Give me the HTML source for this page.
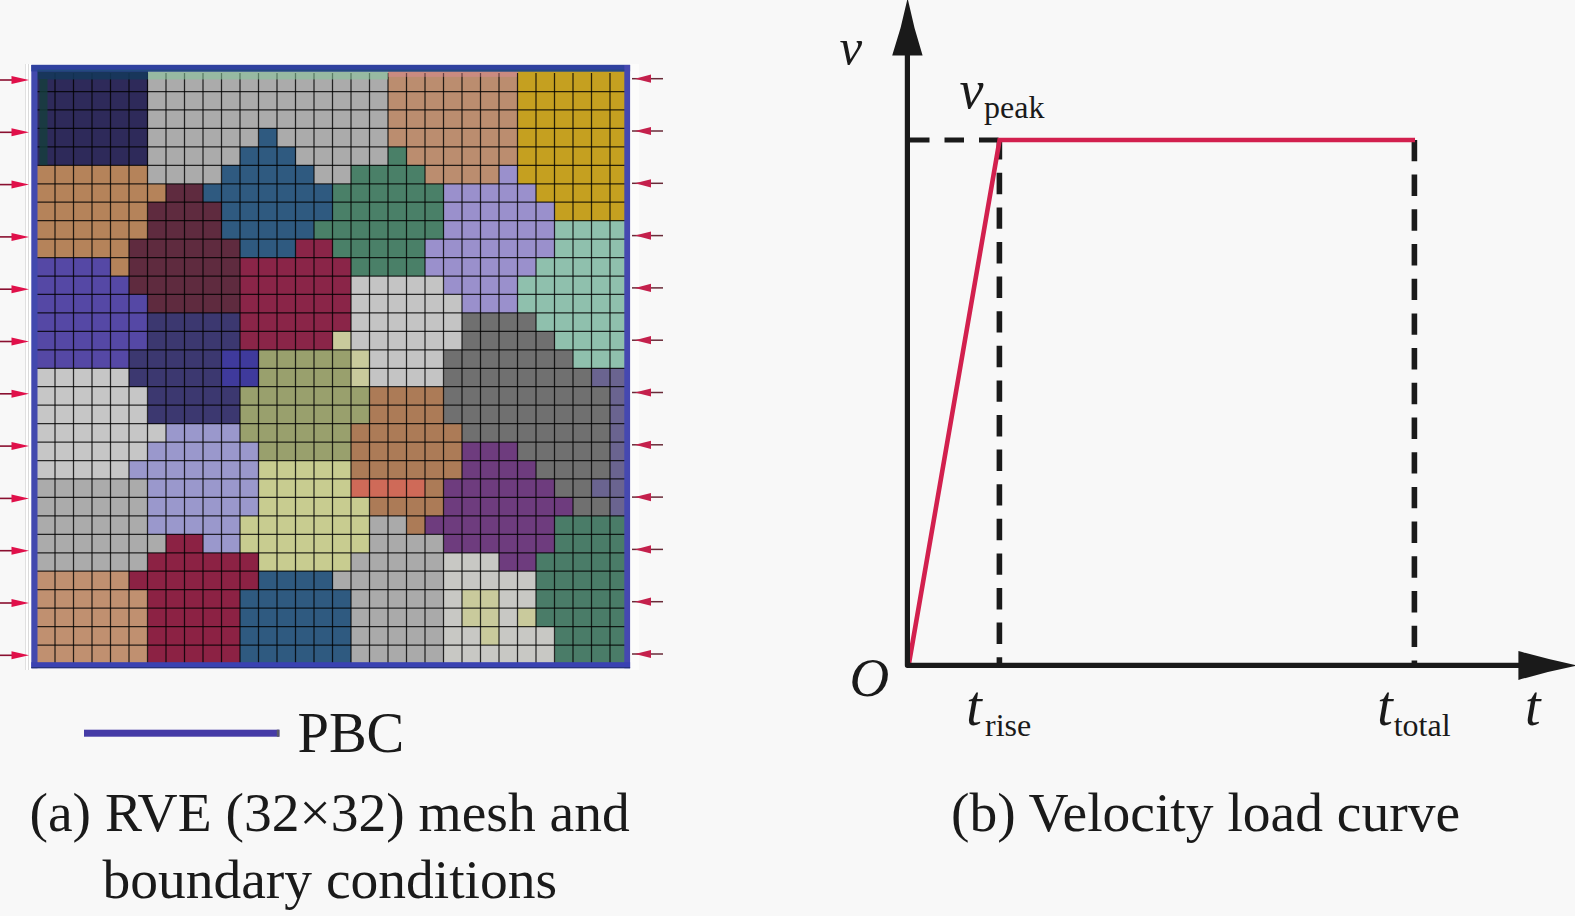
<!DOCTYPE html>
<html lang="en"><head><meta charset="utf-8"><title>RVE mesh and velocity load curve</title>
<style>
html,body{margin:0;padding:0;background:#f8f8f8;}
body{width:1575px;height:916px;overflow:hidden;position:relative;font-family:"Liberation Serif","Times New Roman",serif;}
svg{position:absolute;left:0;top:0;display:block;}
text{font-family:"Liberation Serif","Times New Roman",serif;fill:#1a1a1a;}
.it{font-style:italic;}
</style></head><body>
<svg width="1575" height="916" viewBox="0 0 1575 916">
<rect x="0" y="0" width="1575" height="916" fill="#f8f8f8"/>

<rect x="25" y="64" width="7" height="606" fill="#ffffff"/>
<rect x="25" y="64" width="0.7" height="606" fill="#d4d4d4"/>
<rect x="28" y="64" width="0.7" height="606" fill="#cccccc"/>
<rect x="630" y="64" width="9" height="606" fill="#fcfcfb"/>
<g shape-rendering="crispEdges">
<rect x="36.5" y="70.0" width="111.3" height="21.8" fill="#2e2a5a"/>
<rect x="147.5" y="70.0" width="240.8" height="21.8" fill="#ababab"/>
<rect x="388.0" y="70.0" width="129.8" height="21.8" fill="#bb8d6f"/>
<rect x="517.5" y="70.0" width="111.3" height="21.8" fill="#c5a020"/>
<rect x="36.5" y="91.5" width="111.3" height="18.75" fill="#2e2a5a"/>
<rect x="147.5" y="91.5" width="240.8" height="18.75" fill="#ababab"/>
<rect x="388.0" y="91.5" width="129.8" height="18.75" fill="#bb8d6f"/>
<rect x="517.5" y="91.5" width="111.3" height="18.75" fill="#c5a020"/>
<rect x="36.5" y="109.95" width="111.3" height="18.75" fill="#2e2a5a"/>
<rect x="147.5" y="109.95" width="240.8" height="18.75" fill="#ababab"/>
<rect x="388.0" y="109.95" width="129.8" height="18.75" fill="#bb8d6f"/>
<rect x="517.5" y="109.95" width="111.3" height="18.75" fill="#c5a020"/>
<rect x="36.5" y="128.4" width="111.3" height="18.75" fill="#2e2a5a"/>
<rect x="147.5" y="128.4" width="111.3" height="18.75" fill="#ababab"/>
<rect x="258.5" y="128.4" width="18.8" height="18.75" fill="#2f5a80"/>
<rect x="277.0" y="128.4" width="111.3" height="18.75" fill="#ababab"/>
<rect x="388.0" y="128.4" width="129.8" height="18.75" fill="#bb8d6f"/>
<rect x="517.5" y="128.4" width="111.3" height="18.75" fill="#c5a020"/>
<rect x="36.5" y="146.85" width="111.3" height="18.75" fill="#2e2a5a"/>
<rect x="147.5" y="146.85" width="92.8" height="18.75" fill="#ababab"/>
<rect x="240.0" y="146.85" width="55.8" height="18.75" fill="#2f5a80"/>
<rect x="295.5" y="146.85" width="92.8" height="18.75" fill="#ababab"/>
<rect x="388.0" y="146.85" width="18.8" height="18.75" fill="#4a8068"/>
<rect x="406.5" y="146.85" width="111.3" height="18.75" fill="#bb8d6f"/>
<rect x="517.5" y="146.85" width="111.3" height="18.75" fill="#c5a020"/>
<rect x="36.5" y="165.3" width="111.3" height="18.75" fill="#b5835a"/>
<rect x="147.5" y="165.3" width="74.3" height="18.75" fill="#ababab"/>
<rect x="221.5" y="165.3" width="92.8" height="18.75" fill="#2f5a80"/>
<rect x="314.0" y="165.3" width="37.3" height="18.75" fill="#ababab"/>
<rect x="351.0" y="165.3" width="74.3" height="18.75" fill="#4a8068"/>
<rect x="425.0" y="165.3" width="74.3" height="18.75" fill="#bb8d6f"/>
<rect x="499.0" y="165.3" width="18.8" height="18.75" fill="#9a90cc"/>
<rect x="517.5" y="165.3" width="111.3" height="18.75" fill="#c5a020"/>
<rect x="36.5" y="183.75" width="129.8" height="18.75" fill="#b5835a"/>
<rect x="166.0" y="183.75" width="37.3" height="18.75" fill="#5f2b3f"/>
<rect x="203.0" y="183.75" width="129.8" height="18.75" fill="#2f5a80"/>
<rect x="332.5" y="183.75" width="111.3" height="18.75" fill="#4a8068"/>
<rect x="443.5" y="183.75" width="92.8" height="18.75" fill="#9a90cc"/>
<rect x="536.0" y="183.75" width="92.8" height="18.75" fill="#c5a020"/>
<rect x="36.5" y="202.2" width="111.3" height="18.75" fill="#b5835a"/>
<rect x="147.5" y="202.2" width="74.3" height="18.75" fill="#5f2b3f"/>
<rect x="221.5" y="202.2" width="111.3" height="18.75" fill="#2f5a80"/>
<rect x="332.5" y="202.2" width="111.3" height="18.75" fill="#4a8068"/>
<rect x="443.5" y="202.2" width="111.3" height="18.75" fill="#9a90cc"/>
<rect x="554.5" y="202.2" width="74.3" height="18.75" fill="#c5a020"/>
<rect x="36.5" y="220.65" width="111.3" height="18.75" fill="#b5835a"/>
<rect x="147.5" y="220.65" width="74.3" height="18.75" fill="#5f2b3f"/>
<rect x="221.5" y="220.65" width="92.8" height="18.75" fill="#2f5a80"/>
<rect x="314.0" y="220.65" width="129.8" height="18.75" fill="#4a8068"/>
<rect x="443.5" y="220.65" width="111.3" height="18.75" fill="#9a90cc"/>
<rect x="554.5" y="220.65" width="74.3" height="18.75" fill="#8fc0ad"/>
<rect x="36.5" y="239.1" width="92.8" height="18.75" fill="#b5835a"/>
<rect x="129.0" y="239.1" width="111.3" height="18.75" fill="#5f2b3f"/>
<rect x="240.0" y="239.1" width="55.8" height="18.75" fill="#2f5a80"/>
<rect x="295.5" y="239.1" width="37.3" height="18.75" fill="#8a2548"/>
<rect x="332.5" y="239.1" width="92.8" height="18.75" fill="#4a8068"/>
<rect x="425.0" y="239.1" width="129.8" height="18.75" fill="#9a90cc"/>
<rect x="554.5" y="239.1" width="74.3" height="18.75" fill="#8fc0ad"/>
<rect x="36.5" y="257.55" width="74.3" height="18.75" fill="#5548a5"/>
<rect x="110.5" y="257.55" width="18.8" height="18.75" fill="#b5835a"/>
<rect x="129.0" y="257.55" width="111.3" height="18.75" fill="#5f2b3f"/>
<rect x="240.0" y="257.55" width="111.3" height="18.75" fill="#8a2548"/>
<rect x="351.0" y="257.55" width="74.3" height="18.75" fill="#4a8068"/>
<rect x="425.0" y="257.55" width="111.3" height="18.75" fill="#9a90cc"/>
<rect x="536.0" y="257.55" width="92.8" height="18.75" fill="#8fc0ad"/>
<rect x="36.5" y="276.0" width="92.8" height="18.75" fill="#5548a5"/>
<rect x="129.0" y="276.0" width="111.3" height="18.75" fill="#5f2b3f"/>
<rect x="240.0" y="276.0" width="111.3" height="18.75" fill="#8a2548"/>
<rect x="351.0" y="276.0" width="92.8" height="18.75" fill="#c4c4c4"/>
<rect x="443.5" y="276.0" width="74.3" height="18.75" fill="#9a90cc"/>
<rect x="517.5" y="276.0" width="111.3" height="18.75" fill="#8fc0ad"/>
<rect x="36.5" y="294.45" width="111.3" height="18.75" fill="#5548a5"/>
<rect x="147.5" y="294.45" width="92.8" height="18.75" fill="#5f2b3f"/>
<rect x="240.0" y="294.45" width="111.3" height="18.75" fill="#8a2548"/>
<rect x="351.0" y="294.45" width="111.3" height="18.75" fill="#c4c4c4"/>
<rect x="462.0" y="294.45" width="55.8" height="18.75" fill="#9a90cc"/>
<rect x="517.5" y="294.45" width="111.3" height="18.75" fill="#8fc0ad"/>
<rect x="36.5" y="312.9" width="111.3" height="18.75" fill="#5548a5"/>
<rect x="147.5" y="312.9" width="92.8" height="18.75" fill="#3c3870"/>
<rect x="240.0" y="312.9" width="111.3" height="18.75" fill="#8a2548"/>
<rect x="351.0" y="312.9" width="111.3" height="18.75" fill="#c4c4c4"/>
<rect x="462.0" y="312.9" width="74.3" height="18.75" fill="#707070"/>
<rect x="536.0" y="312.9" width="92.8" height="18.75" fill="#8fc0ad"/>
<rect x="36.5" y="331.35" width="111.3" height="18.75" fill="#5548a5"/>
<rect x="147.5" y="331.35" width="92.8" height="18.75" fill="#3c3870"/>
<rect x="240.0" y="331.35" width="92.8" height="18.75" fill="#8a2548"/>
<rect x="332.5" y="331.35" width="18.8" height="18.75" fill="#c9ca9c"/>
<rect x="351.0" y="331.35" width="111.3" height="18.75" fill="#c4c4c4"/>
<rect x="462.0" y="331.35" width="92.8" height="18.75" fill="#707070"/>
<rect x="554.5" y="331.35" width="74.3" height="18.75" fill="#8fc0ad"/>
<rect x="36.5" y="349.8" width="92.8" height="18.75" fill="#5548a5"/>
<rect x="129.0" y="349.8" width="92.8" height="18.75" fill="#3c3870"/>
<rect x="221.5" y="349.8" width="37.3" height="18.75" fill="#3f3a9c"/>
<rect x="258.5" y="349.8" width="92.8" height="18.75" fill="#99a06d"/>
<rect x="351.0" y="349.8" width="18.8" height="18.75" fill="#c9ca9c"/>
<rect x="369.5" y="349.8" width="74.3" height="18.75" fill="#c4c4c4"/>
<rect x="443.5" y="349.8" width="129.8" height="18.75" fill="#707070"/>
<rect x="573.0" y="349.8" width="55.8" height="18.75" fill="#8fc0ad"/>
<rect x="36.5" y="368.25" width="92.8" height="18.75" fill="#c6c6c6"/>
<rect x="129.0" y="368.25" width="92.8" height="18.75" fill="#3c3870"/>
<rect x="221.5" y="368.25" width="37.3" height="18.75" fill="#3f3a9c"/>
<rect x="258.5" y="368.25" width="92.8" height="18.75" fill="#99a06d"/>
<rect x="351.0" y="368.25" width="18.8" height="18.75" fill="#c9ca9c"/>
<rect x="369.5" y="368.25" width="74.3" height="18.75" fill="#c4c4c4"/>
<rect x="443.5" y="368.25" width="148.3" height="18.75" fill="#707070"/>
<rect x="591.5" y="368.25" width="37.3" height="18.75" fill="#6a6490"/>
<rect x="36.5" y="386.7" width="111.3" height="18.75" fill="#c6c6c6"/>
<rect x="147.5" y="386.7" width="92.8" height="18.75" fill="#3c3870"/>
<rect x="240.0" y="386.7" width="129.8" height="18.75" fill="#99a06d"/>
<rect x="369.5" y="386.7" width="74.3" height="18.75" fill="#ac7b57"/>
<rect x="443.5" y="386.7" width="166.8" height="18.75" fill="#707070"/>
<rect x="610.0" y="386.7" width="18.8" height="18.75" fill="#6a6490"/>
<rect x="36.5" y="405.15" width="111.3" height="18.75" fill="#c6c6c6"/>
<rect x="147.5" y="405.15" width="92.8" height="18.75" fill="#3c3870"/>
<rect x="240.0" y="405.15" width="129.8" height="18.75" fill="#99a06d"/>
<rect x="369.5" y="405.15" width="74.3" height="18.75" fill="#ac7b57"/>
<rect x="443.5" y="405.15" width="166.8" height="18.75" fill="#707070"/>
<rect x="610.0" y="405.15" width="18.8" height="18.75" fill="#6a6490"/>
<rect x="36.5" y="423.6" width="129.8" height="18.75" fill="#c6c6c6"/>
<rect x="166.0" y="423.6" width="74.3" height="18.75" fill="#9a98cc"/>
<rect x="240.0" y="423.6" width="111.3" height="18.75" fill="#99a06d"/>
<rect x="351.0" y="423.6" width="111.3" height="18.75" fill="#ac7b57"/>
<rect x="462.0" y="423.6" width="148.3" height="18.75" fill="#707070"/>
<rect x="610.0" y="423.6" width="18.8" height="18.75" fill="#6a6490"/>
<rect x="36.5" y="442.05" width="111.3" height="18.75" fill="#c6c6c6"/>
<rect x="147.5" y="442.05" width="111.3" height="18.75" fill="#9a98cc"/>
<rect x="258.5" y="442.05" width="92.8" height="18.75" fill="#99a06d"/>
<rect x="351.0" y="442.05" width="111.3" height="18.75" fill="#ac7b57"/>
<rect x="462.0" y="442.05" width="55.8" height="18.75" fill="#6e3c7e"/>
<rect x="517.5" y="442.05" width="92.8" height="18.75" fill="#707070"/>
<rect x="610.0" y="442.05" width="18.8" height="18.75" fill="#6a6490"/>
<rect x="36.5" y="460.5" width="92.8" height="18.75" fill="#c6c6c6"/>
<rect x="129.0" y="460.5" width="129.8" height="18.75" fill="#9a98cc"/>
<rect x="258.5" y="460.5" width="92.8" height="18.75" fill="#c8cc90"/>
<rect x="351.0" y="460.5" width="111.3" height="18.75" fill="#ac7b57"/>
<rect x="462.0" y="460.5" width="74.3" height="18.75" fill="#6e3c7e"/>
<rect x="536.0" y="460.5" width="74.3" height="18.75" fill="#707070"/>
<rect x="610.0" y="460.5" width="18.8" height="18.75" fill="#6a6490"/>
<rect x="36.5" y="478.95" width="111.3" height="18.75" fill="#ababab"/>
<rect x="147.5" y="478.95" width="111.3" height="18.75" fill="#9a98cc"/>
<rect x="258.5" y="478.95" width="92.8" height="18.75" fill="#c8cc90"/>
<rect x="351.0" y="478.95" width="74.3" height="18.75" fill="#cf6a58"/>
<rect x="425.0" y="478.95" width="18.8" height="18.75" fill="#ac7b57"/>
<rect x="443.5" y="478.95" width="111.3" height="18.75" fill="#6e3c7e"/>
<rect x="554.5" y="478.95" width="37.3" height="18.75" fill="#707070"/>
<rect x="591.5" y="478.95" width="37.3" height="18.75" fill="#6a6490"/>
<rect x="36.5" y="497.4" width="111.3" height="18.75" fill="#ababab"/>
<rect x="147.5" y="497.4" width="111.3" height="18.75" fill="#9a98cc"/>
<rect x="258.5" y="497.4" width="111.3" height="18.75" fill="#c8cc90"/>
<rect x="369.5" y="497.4" width="74.3" height="18.75" fill="#ac7b57"/>
<rect x="443.5" y="497.4" width="129.8" height="18.75" fill="#6e3c7e"/>
<rect x="573.0" y="497.4" width="37.3" height="18.75" fill="#707070"/>
<rect x="610.0" y="497.4" width="18.8" height="18.75" fill="#6a6490"/>
<rect x="36.5" y="515.85" width="111.3" height="18.75" fill="#ababab"/>
<rect x="147.5" y="515.85" width="92.8" height="18.75" fill="#9a98cc"/>
<rect x="240.0" y="515.85" width="129.8" height="18.75" fill="#c8cc90"/>
<rect x="369.5" y="515.85" width="37.3" height="18.75" fill="#aaaaaa"/>
<rect x="406.5" y="515.85" width="18.8" height="18.75" fill="#ac7b57"/>
<rect x="425.0" y="515.85" width="129.8" height="18.75" fill="#6e3c7e"/>
<rect x="554.5" y="515.85" width="74.3" height="18.75" fill="#4a7c68"/>
<rect x="36.5" y="534.3" width="129.8" height="18.75" fill="#ababab"/>
<rect x="166.0" y="534.3" width="37.3" height="18.75" fill="#8c2244"/>
<rect x="203.0" y="534.3" width="37.3" height="18.75" fill="#9a98cc"/>
<rect x="240.0" y="534.3" width="129.8" height="18.75" fill="#c8cc90"/>
<rect x="369.5" y="534.3" width="74.3" height="18.75" fill="#aaaaaa"/>
<rect x="443.5" y="534.3" width="111.3" height="18.75" fill="#6e3c7e"/>
<rect x="554.5" y="534.3" width="74.3" height="18.75" fill="#4a7c68"/>
<rect x="36.5" y="552.75" width="111.3" height="18.75" fill="#ababab"/>
<rect x="147.5" y="552.75" width="111.3" height="18.75" fill="#8c2244"/>
<rect x="258.5" y="552.75" width="92.8" height="18.75" fill="#c8cc90"/>
<rect x="351.0" y="552.75" width="92.8" height="18.75" fill="#aaaaaa"/>
<rect x="443.5" y="552.75" width="55.8" height="18.75" fill="#c8c8c4"/>
<rect x="499.0" y="552.75" width="37.3" height="18.75" fill="#6e3c7e"/>
<rect x="536.0" y="552.75" width="92.8" height="18.75" fill="#4a7c68"/>
<rect x="36.5" y="571.2" width="92.8" height="18.75" fill="#c09070"/>
<rect x="129.0" y="571.2" width="129.8" height="18.75" fill="#8c2244"/>
<rect x="258.5" y="571.2" width="74.3" height="18.75" fill="#2f5a80"/>
<rect x="332.5" y="571.2" width="111.3" height="18.75" fill="#aaaaaa"/>
<rect x="443.5" y="571.2" width="92.8" height="18.75" fill="#c8c8c4"/>
<rect x="536.0" y="571.2" width="92.8" height="18.75" fill="#4a7c68"/>
<rect x="36.5" y="589.65" width="111.3" height="18.75" fill="#c09070"/>
<rect x="147.5" y="589.65" width="92.8" height="18.75" fill="#8c2244"/>
<rect x="240.0" y="589.65" width="111.3" height="18.75" fill="#2f5a80"/>
<rect x="351.0" y="589.65" width="92.8" height="18.75" fill="#aaaaaa"/>
<rect x="443.5" y="589.65" width="18.8" height="18.75" fill="#c8c8c4"/>
<rect x="462.0" y="589.65" width="37.3" height="18.75" fill="#c9ca9c"/>
<rect x="499.0" y="589.65" width="37.3" height="18.75" fill="#c8c8c4"/>
<rect x="536.0" y="589.65" width="92.8" height="18.75" fill="#4a7c68"/>
<rect x="36.5" y="608.1" width="111.3" height="18.75" fill="#c09070"/>
<rect x="147.5" y="608.1" width="92.8" height="18.75" fill="#8c2244"/>
<rect x="240.0" y="608.1" width="111.3" height="18.75" fill="#2f5a80"/>
<rect x="351.0" y="608.1" width="92.8" height="18.75" fill="#aaaaaa"/>
<rect x="443.5" y="608.1" width="18.8" height="18.75" fill="#c8c8c4"/>
<rect x="462.0" y="608.1" width="37.3" height="18.75" fill="#c9ca9c"/>
<rect x="499.0" y="608.1" width="18.8" height="18.75" fill="#c8c8c4"/>
<rect x="517.5" y="608.1" width="18.8" height="18.75" fill="#c9ca9c"/>
<rect x="536.0" y="608.1" width="92.8" height="18.75" fill="#4a7c68"/>
<rect x="36.5" y="626.55" width="111.3" height="18.75" fill="#c09070"/>
<rect x="147.5" y="626.55" width="92.8" height="18.75" fill="#8c2244"/>
<rect x="240.0" y="626.55" width="111.3" height="18.75" fill="#2f5a80"/>
<rect x="351.0" y="626.55" width="92.8" height="18.75" fill="#aaaaaa"/>
<rect x="443.5" y="626.55" width="37.3" height="18.75" fill="#c8c8c4"/>
<rect x="480.5" y="626.55" width="18.8" height="18.75" fill="#c9ca9c"/>
<rect x="499.0" y="626.55" width="55.8" height="18.75" fill="#c8c8c4"/>
<rect x="554.5" y="626.55" width="74.3" height="18.75" fill="#4a7c68"/>
<rect x="36.5" y="645.0" width="111.3" height="18.75" fill="#c09070"/>
<rect x="147.5" y="645.0" width="92.8" height="18.75" fill="#8c2244"/>
<rect x="240.0" y="645.0" width="111.3" height="18.75" fill="#2f5a80"/>
<rect x="351.0" y="645.0" width="92.8" height="18.75" fill="#aaaaaa"/>
<rect x="443.5" y="645.0" width="111.3" height="18.75" fill="#c8c8c4"/>
<rect x="554.5" y="645.0" width="74.3" height="18.75" fill="#4a7c68"/>
</g>
<g stroke="#000" stroke-width="1.25" stroke-opacity="0.8">
<line x1="55.0" y1="73.05" x2="55.0" y2="663.45"/>
<line x1="73.5" y1="73.05" x2="73.5" y2="663.45"/>
<line x1="92.0" y1="73.05" x2="92.0" y2="663.45"/>
<line x1="110.5" y1="73.05" x2="110.5" y2="663.45"/>
<line x1="129.0" y1="73.05" x2="129.0" y2="663.45"/>
<line x1="147.5" y1="73.05" x2="147.5" y2="663.45"/>
<line x1="166.0" y1="73.05" x2="166.0" y2="663.45"/>
<line x1="184.5" y1="73.05" x2="184.5" y2="663.45"/>
<line x1="203.0" y1="73.05" x2="203.0" y2="663.45"/>
<line x1="221.5" y1="73.05" x2="221.5" y2="663.45"/>
<line x1="240.0" y1="73.05" x2="240.0" y2="663.45"/>
<line x1="258.5" y1="73.05" x2="258.5" y2="663.45"/>
<line x1="277.0" y1="73.05" x2="277.0" y2="663.45"/>
<line x1="295.5" y1="73.05" x2="295.5" y2="663.45"/>
<line x1="314.0" y1="73.05" x2="314.0" y2="663.45"/>
<line x1="332.5" y1="73.05" x2="332.5" y2="663.45"/>
<line x1="351.0" y1="73.05" x2="351.0" y2="663.45"/>
<line x1="369.5" y1="73.05" x2="369.5" y2="663.45"/>
<line x1="388.0" y1="73.05" x2="388.0" y2="663.45"/>
<line x1="406.5" y1="73.05" x2="406.5" y2="663.45"/>
<line x1="425.0" y1="73.05" x2="425.0" y2="663.45"/>
<line x1="443.5" y1="73.05" x2="443.5" y2="663.45"/>
<line x1="462.0" y1="73.05" x2="462.0" y2="663.45"/>
<line x1="480.5" y1="73.05" x2="480.5" y2="663.45"/>
<line x1="499.0" y1="73.05" x2="499.0" y2="663.45"/>
<line x1="517.5" y1="73.05" x2="517.5" y2="663.45"/>
<line x1="536.0" y1="73.05" x2="536.0" y2="663.45"/>
<line x1="554.5" y1="73.05" x2="554.5" y2="663.45"/>
<line x1="573.0" y1="73.05" x2="573.0" y2="663.45"/>
<line x1="591.5" y1="73.05" x2="591.5" y2="663.45"/>
<line x1="610.0" y1="73.05" x2="610.0" y2="663.45"/>
<line x1="36.5" y1="91.5" x2="628.5" y2="91.5"/>
<line x1="36.5" y1="109.95" x2="628.5" y2="109.95"/>
<line x1="36.5" y1="128.4" x2="628.5" y2="128.4"/>
<line x1="36.5" y1="146.85" x2="628.5" y2="146.85"/>
<line x1="36.5" y1="165.3" x2="628.5" y2="165.3"/>
<line x1="36.5" y1="183.75" x2="628.5" y2="183.75"/>
<line x1="36.5" y1="202.2" x2="628.5" y2="202.2"/>
<line x1="36.5" y1="220.65" x2="628.5" y2="220.65"/>
<line x1="36.5" y1="239.1" x2="628.5" y2="239.1"/>
<line x1="36.5" y1="257.55" x2="628.5" y2="257.55"/>
<line x1="36.5" y1="276.0" x2="628.5" y2="276.0"/>
<line x1="36.5" y1="294.45" x2="628.5" y2="294.45"/>
<line x1="36.5" y1="312.9" x2="628.5" y2="312.9"/>
<line x1="36.5" y1="331.35" x2="628.5" y2="331.35"/>
<line x1="36.5" y1="349.8" x2="628.5" y2="349.8"/>
<line x1="36.5" y1="368.25" x2="628.5" y2="368.25"/>
<line x1="36.5" y1="386.7" x2="628.5" y2="386.7"/>
<line x1="36.5" y1="405.15" x2="628.5" y2="405.15"/>
<line x1="36.5" y1="423.6" x2="628.5" y2="423.6"/>
<line x1="36.5" y1="442.05" x2="628.5" y2="442.05"/>
<line x1="36.5" y1="460.5" x2="628.5" y2="460.5"/>
<line x1="36.5" y1="478.95" x2="628.5" y2="478.95"/>
<line x1="36.5" y1="497.4" x2="628.5" y2="497.4"/>
<line x1="36.5" y1="515.85" x2="628.5" y2="515.85"/>
<line x1="36.5" y1="534.3" x2="628.5" y2="534.3"/>
<line x1="36.5" y1="552.75" x2="628.5" y2="552.75"/>
<line x1="36.5" y1="571.2" x2="628.5" y2="571.2"/>
<line x1="36.5" y1="589.65" x2="628.5" y2="589.65"/>
<line x1="36.5" y1="608.1" x2="628.5" y2="608.1"/>
<line x1="36.5" y1="626.55" x2="628.5" y2="626.55"/>
<line x1="36.5" y1="645.0" x2="628.5" y2="645.0"/>
</g>
<rect x="37" y="71.4" width="111" height="8" fill="#14385c" opacity="0.85"/>
<rect x="39.5" y="79" width="8" height="86" fill="#153f3c" opacity="0.8"/>
<rect x="148" y="71.4" width="240" height="8" fill="#86c79a" opacity="0.55"/>
<rect x="388" y="71.4" width="129" height="5.5" fill="#e48aa0" opacity="0.35"/>
<rect x="31.3" y="65" width="6.2" height="603.2" fill="#4249ae"/>
<rect x="31.3" y="64.8" width="598.8" height="6.6" fill="#2f419f"/>
<rect x="624.3" y="65" width="5.8" height="603.2" fill="#4548b0"/>
<rect x="31.3" y="662.2" width="598.8" height="6" fill="#3a42b2"/>
<rect x="37.5" y="69.6" width="586.8" height="1.9" fill="#234a80"/>
<rect x="31.3" y="667.2" width="598.8" height="1" fill="#22306e"/>
<g fill="#e0104a" stroke="none">
<rect x="0" y="79.2" width="14" height="1.6" fill="#8a1030"/>
<path d="M11.5 76.0 L29 80.0 L11.5 84.0 Z"/>
<rect x="0" y="131.5" width="14" height="1.6" fill="#8a1030"/>
<path d="M11.5 128.3 L29 132.3 L11.5 136.3 Z"/>
<rect x="0" y="183.8" width="14" height="1.6" fill="#8a1030"/>
<path d="M11.5 180.6 L29 184.6 L11.5 188.6 Z"/>
<rect x="0" y="236.1" width="14" height="1.6" fill="#8a1030"/>
<path d="M11.5 232.9 L29 236.9 L11.5 240.9 Z"/>
<rect x="0" y="288.4" width="14" height="1.6" fill="#8a1030"/>
<path d="M11.5 285.2 L29 289.2 L11.5 293.2 Z"/>
<rect x="0" y="340.7" width="14" height="1.6" fill="#8a1030"/>
<path d="M11.5 337.5 L29 341.5 L11.5 345.5 Z"/>
<rect x="0" y="393.0" width="14" height="1.6" fill="#8a1030"/>
<path d="M11.5 389.8 L29 393.8 L11.5 397.8 Z"/>
<rect x="0" y="445.3" width="14" height="1.6" fill="#8a1030"/>
<path d="M11.5 442.1 L29 446.1 L11.5 450.1 Z"/>
<rect x="0" y="497.6" width="14" height="1.6" fill="#8a1030"/>
<path d="M11.5 494.4 L29 498.4 L11.5 502.4 Z"/>
<rect x="0" y="549.9" width="14" height="1.6" fill="#8a1030"/>
<path d="M11.5 546.7 L29 550.7 L11.5 554.7 Z"/>
<rect x="0" y="602.2" width="14" height="1.6" fill="#8a1030"/>
<path d="M11.5 599.0 L29 603.0 L11.5 607.0 Z"/>
<rect x="0" y="654.5" width="14" height="1.6" fill="#8a1030"/>
<path d="M11.5 651.3 L29 655.3 L11.5 659.3 Z"/>
</g>
<g fill="#c4204c" stroke="none">
<rect x="632" y="77.95" width="31" height="1.5" fill="#6a2a38"/>
<path d="M651 74.6 L635 78.7 L651 82.8 Z"/>
<rect x="632" y="130.25" width="31" height="1.5" fill="#6a2a38"/>
<path d="M651 126.9 L635 131.0 L651 135.1 Z"/>
<rect x="632" y="182.55" width="31" height="1.5" fill="#6a2a38"/>
<path d="M651 179.2 L635 183.3 L651 187.4 Z"/>
<rect x="632" y="234.85" width="31" height="1.5" fill="#6a2a38"/>
<path d="M651 231.5 L635 235.6 L651 239.7 Z"/>
<rect x="632" y="287.15" width="31" height="1.5" fill="#6a2a38"/>
<path d="M651 283.8 L635 287.9 L651 292.0 Z"/>
<rect x="632" y="339.45" width="31" height="1.5" fill="#6a2a38"/>
<path d="M651 336.1 L635 340.2 L651 344.3 Z"/>
<rect x="632" y="391.75" width="31" height="1.5" fill="#6a2a38"/>
<path d="M651 388.4 L635 392.5 L651 396.6 Z"/>
<rect x="632" y="444.05" width="31" height="1.5" fill="#6a2a38"/>
<path d="M651 440.7 L635 444.8 L651 448.9 Z"/>
<rect x="632" y="496.35" width="31" height="1.5" fill="#6a2a38"/>
<path d="M651 493.0 L635 497.1 L651 501.2 Z"/>
<rect x="632" y="548.65" width="31" height="1.5" fill="#6a2a38"/>
<path d="M651 545.3 L635 549.4 L651 553.5 Z"/>
<rect x="632" y="600.95" width="31" height="1.5" fill="#6a2a38"/>
<path d="M651 597.6 L635 601.7 L651 605.8 Z"/>
<rect x="632" y="653.25" width="31" height="1.5" fill="#6a2a38"/>
<path d="M651 649.9 L635 654.0 L651 658.1 Z"/>
</g>
<rect x="84" y="729.7" width="195.4" height="7" fill="#453ba6"/>
<rect x="276.8" y="729.7" width="2.6" height="7" fill="#5a5a66"/>
<text x="297.5" y="751.8" font-size="56.5">PBC</text>
<text x="29.5" y="831" font-size="55.5">(a) RVE (32×32) mesh and</text>
<text x="102.4" y="897.6" font-size="55.5">boundary conditions</text>
<text x="951" y="831" font-size="55.5">(b) Velocity load curve</text>
<g stroke="#1a1a1a" fill="none">
<line x1="910" y1="140" x2="999" y2="140" stroke-width="5" stroke-dasharray="19.5 15"/>
<line x1="999.4" y1="138.2" x2="999.4" y2="664" stroke-width="5.6" stroke-dasharray="21.4 13.2"/>
<line x1="1414.4" y1="139.9" x2="1414.4" y2="664" stroke-width="5.6" stroke-dasharray="21.4 13.3"/>
</g>
<polyline points="908.7,665 999.6,140 1415,140" fill="none" stroke="#d2204e" stroke-width="4.6" stroke-linejoin="miter"/>
<polyline points="907.4,40 907.4,665.3 1530,665.3" fill="none" stroke="#1a1a1a" stroke-width="5.2" stroke-linejoin="round"/>
<path d="M907.6 -2 Q913.4 27 922.6 55.6 L892.2 55.6 Q901.8 27 907.6 -2 Z" fill="#1a1a1a"/>
<path d="M1578 665.5 Q1548 659.6 1518.4 651 L1518.4 680 Q1548 671.4 1578 665.5 Z" fill="#1a1a1a"/>
<text class="it" x="839.5" y="64" font-size="51">v</text>
<text class="it" x="959.6" y="107.8" font-size="54">v</text>
<text x="984" y="118" font-size="32">peak</text>
<text class="it" x="849.5" y="695.6" font-size="55">O</text>
<text class="it" x="966.3" y="724.8" font-size="56">t</text>
<text x="985" y="735.7" font-size="32">rise</text>
<text class="it" x="1377.3" y="725" font-size="56">t</text>
<text x="1393.7" y="735.8" font-size="32">total</text>
<text class="it" x="1525" y="725" font-size="56">t</text>
</svg></body></html>
